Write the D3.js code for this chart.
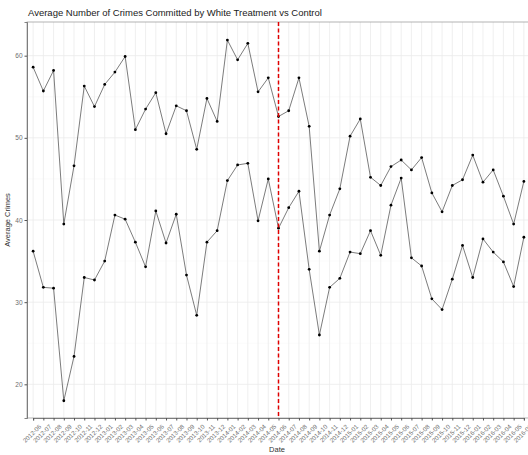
<!DOCTYPE html>
<html>
<head>
<meta charset="utf-8">
<script src="https://cdn.jsdelivr.net/npm/d3@7"></script>
<style>
  body { margin: 0; background: #fff; }
  svg text { font-family: "Liberation Sans", Arial, sans-serif; }
</style>
</head>
<body>
<div id="chart"></div>
<script>
// months, 2012-06 .. 2016-06
const dates = [
  "2012-06", "2012-07", "2012-08", "2012-09", "2012-10", "2012-11", "2012-12",
  "2013-01", "2013-02", "2013-03", "2013-04", "2013-05", "2013-06", "2013-07",
  "2013-08", "2013-09", "2013-10", "2013-11", "2013-12", "2014-01", "2014-02",
  "2014-03", "2014-04", "2014-05", "2014-06", "2014-07", "2014-08", "2014-09",
  "2014-10", "2014-11", "2014-12", "2015-01", "2015-02", "2015-03", "2015-04",
  "2015-05", "2015-06", "2015-07", "2015-08", "2015-09", "2015-10", "2015-11",
  "2015-12", "2016-01", "2016-02", "2016-03", "2016-04", "2016-05", "2016-06"
];

const treatment = [
  58.6, 55.7, 58.2, 39.5, 46.6, 56.3, 53.8, 56.5, 58.0, 59.9,
  51.0, 53.5, 55.5, 50.5, 53.9, 53.3, 48.6, 54.8, 52.0, 61.9,
  59.5, 61.5, 55.6, 57.3, 52.6, 53.3, 57.3, 51.4, 36.2, 40.6,
  43.8, 50.2, 52.3, 45.2, 44.2, 46.5, 47.3, 46.1, 47.6, 43.3,
  41.0, 44.2, 44.9, 47.9, 44.6, 46.1, 42.9, 39.5, 44.7
];

const control = [
  36.2, 31.8, 31.7, 18.0, 23.4, 33.0, 32.7, 35.0, 40.6, 40.1,
  37.3, 34.3, 41.1, 37.2, 40.7, 33.3, 28.4, 37.3, 38.7, 44.8,
  46.7, 46.9, 39.9, 45.0, 39.0, 41.5, 43.5, 34.0, 26.0, 31.8,
  32.9, 36.1, 35.9, 38.7, 35.7, 41.8, 45.1, 35.4, 34.4, 30.4,
  29.1, 32.8, 36.9, 33.0, 37.7, 36.1, 34.9, 31.9, 37.9
];

const yTicks = [20, 30, 40, 50, 60];
const yMinor = [25, 35, 45, 55];
const cutoff = "2014-06";

const dimensions = {
  width: 528,
  height: 455,
  margin: { top: 22, right: -2, bottom: 37, left: 27 },
};
dimensions.innerWidth =
  dimensions.width - dimensions.margin.left - dimensions.margin.right;
dimensions.innerHeight =
  dimensions.height - dimensions.margin.top - dimensions.margin.bottom;

const svg = d3
  .select("#chart")
  .append("svg")
  .attr("width", dimensions.width)
  .attr("height", dimensions.height);

// title
svg
  .append("text")
  .attr("x", 28)
  .attr("y", 16)
  .attr("font-size", 9.5)
  .attr("fill", "#1a1a1a")
  .text("Average Number of Crimes Committed by White Treatment vs Control");

const graph = svg
  .append("g")
  .attr("transform", `translate(${dimensions.margin.left}, ${dimensions.margin.top})`);

// discrete x scale with ggplot style expansion (0.6 of a step each side)
const n = dates.length;
const step = dimensions.innerWidth / (n - 1 + 1.2);
const xScale = d3
  .scalePoint()
  .domain(dates)
  .range([0.6 * step, dimensions.innerWidth - 0.6 * step]);

const yScale = d3
  .scaleLinear()
  .domain([15.9, 64.1])
  .range([dimensions.innerHeight, 0]);

// gridlines
graph
  .selectAll(".minor")
  .data(yMinor)
  .join("line")
  .attr("x1", 0)
  .attr("x2", dimensions.innerWidth)
  .attr("y1", (d) => yScale(d))
  .attr("y2", (d) => yScale(d))
  .attr("stroke", "#f4f4f4")
  .attr("stroke-width", 0.5);

graph
  .selectAll(".ymajor")
  .data(yTicks)
  .join("line")
  .attr("x1", 0)
  .attr("x2", dimensions.innerWidth)
  .attr("y1", (d) => yScale(d))
  .attr("y2", (d) => yScale(d))
  .attr("stroke", "#ebebeb")
  .attr("stroke-width", 0.8);

graph
  .selectAll(".xmajor")
  .data(dates)
  .join("line")
  .attr("x1", (d) => xScale(d))
  .attr("x2", (d) => xScale(d))
  .attr("y1", 0)
  .attr("y2", dimensions.innerHeight)
  .attr("stroke", "#ebebeb")
  .attr("stroke-width", 0.8);

// panel border
graph
  .append("rect")
  .attr("width", dimensions.innerWidth)
  .attr("height", dimensions.innerHeight)
  .attr("fill", "none")
  .attr("stroke", "#a0a0a0")
  .attr("stroke-width", 0.8);

// axes
const xAxis = graph
  .append("g")
  .attr("transform", `translate(0, ${dimensions.innerHeight})`)
  .call(d3.axisBottom(xScale).tickSize(2.5).tickPadding(1));

xAxis.select(".domain").attr("stroke", "#666").attr("stroke-width", 0.8);
xAxis.selectAll(".tick line").attr("stroke", "#555");
xAxis
  .selectAll(".tick text")
  .attr("font-size", 6.2)
  .attr("fill", "#6e6e6e")
  .attr("text-anchor", "end")
  .attr("dy", "0.35em")
  .attr("transform", "translate(4, 5) rotate(-45)");

const yAxis = graph
  .append("g")
  .call(d3.axisLeft(yScale).tickValues(yTicks).tickSize(2.5).tickPadding(2));

yAxis.select(".domain").attr("stroke", "#666").attr("stroke-width", 0.8);
yAxis.selectAll(".tick line").attr("stroke", "#555");
yAxis
  .selectAll(".tick text")
  .attr("font-size", 6.5)
  .attr("fill", "#6e6e6e");

// series lines and points
const lineGenerator = d3
  .line()
  .x((d, i) => xScale(dates[i]))
  .y((d) => yScale(d));

[treatment, control].forEach((series) => {
  graph
    .append("path")
    .datum(series)
    .attr("d", lineGenerator)
    .attr("fill", "none")
    .attr("stroke", "#444")
    .attr("stroke-width", 0.7);

  graph
    .append("g")
    .selectAll("circle")
    .data(series)
    .join("circle")
    .attr("cx", (d, i) => xScale(dates[i]))
    .attr("cy", (d) => yScale(d))
    .attr("r", 1.4)
    .attr("fill", "#000");
});

// intervention line
graph
  .append("line")
  .attr("x1", xScale(cutoff))
  .attr("x2", xScale(cutoff))
  .attr("y1", 0)
  .attr("y2", dimensions.innerHeight)
  .attr("stroke", "#e00000")
  .attr("stroke-width", 1.5)
  .attr("stroke-dasharray", "4,2.5");

// axis titles
svg
  .append("text")
  .attr("x", 277)
  .attr("y", 452)
  .attr("text-anchor", "middle")
  .attr("font-size", 7.5)
  .attr("fill", "#333")
  .text("Date");

svg
  .append("text")
  .attr("transform", `translate(10, ${dimensions.margin.top + dimensions.innerHeight / 2}) rotate(-90)`)
  .attr("text-anchor", "middle")
  .attr("font-size", 7.5)
  .attr("fill", "#333")
  .text("Average Crimes");
</script>
</body>
</html>
